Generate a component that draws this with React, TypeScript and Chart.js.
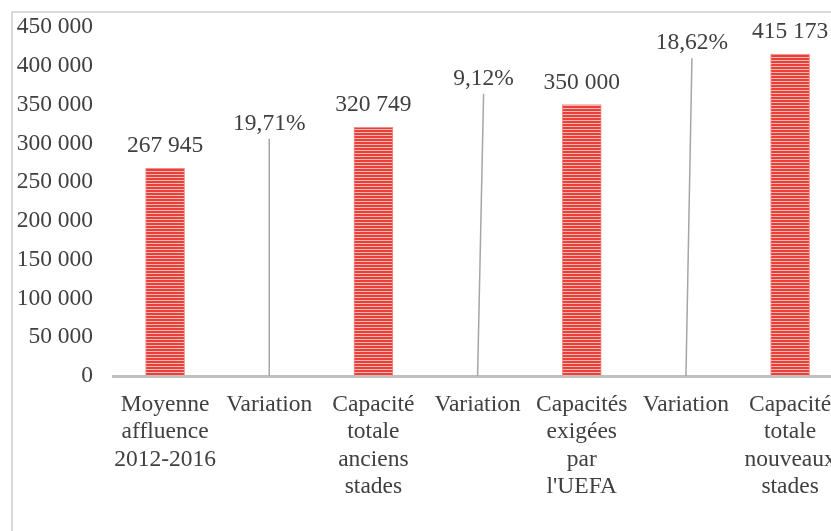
import React, { useEffect, useRef } from "react";
import { Chart, registerables } from "chart.js";

Chart.register(...registerables);

const categories: string[][] = [
  ["Moyenne", "affluence", "2012-2016"],
  ["Variation"],
  ["Capacité", "totale", "anciens", "stades"],
  ["Variation"],
  ["Capacités", "exigées", "par", "l'UEFA"],
  ["Variation"],
  ["Capacité", "totale", "nouveaux", "stades"],
];

const capacities: (number | null)[] = [267945, null, 320749, null, 350000, null, 415173];
const variations: (number | null)[] = [null, 19.71, null, 9.12, null, 18.62, null];
// label anchor levels (in axis units) for the variation leader lines
const variationLabelLevels: (number | null)[] = [null, 306000, null, 364000, null, 410000, null];
const variationLabelShift: (number | null)[] = [null, 0, null, 6, null, 6, null];

const yMin = 0;
const yMax = 450000;
const yStep = 50000;

const FONT = "'Liberation Serif', 'Times New Roman', serif";
const FS = 23.5;
const TEXT = "#404040";

const fmtNum = (v: number) => String(v).replace(/\B(?=(\d{3})+(?!\d))/g, " ");
const fmtPct = (v: number) => v.toFixed(2).replace(".", ",") + "%";

function makePattern(): CanvasPattern | string {
  const c = document.createElement("canvas");
  c.width = 4;
  c.height = 3;
  const ctx = c.getContext("2d");
  if (!ctx) return "#e8463f";
  ctx.fillStyle = "#f7b9b6";
  ctx.fillRect(0, 0, 4, 3);
  ctx.fillStyle = "#e9403a";
  ctx.fillRect(0, 0, 4, 2);
  return ctx.createPattern(c, "repeat") || "#e8463f";
}

const labelPlugin = {
  id: "customLabels",
  afterDatasetsDraw(chart: any) {
    const ctx = chart.ctx;
    const xs = chart.scales.x;
    const ys = chart.scales.y;
    const meta = chart.getDatasetMeta(0);
    ctx.save();
    ctx.font = `${FS}px ${FONT}`;
    ctx.fillStyle = TEXT;
    ctx.textAlign = "center";
    ctx.textBaseline = "alphabetic";
    capacities.forEach((v, i) => {
      if (v == null) return;
      const el = meta.data[i];
      ctx.fillText(fmtNum(v), el.x, el.y - 16);
    });
    variations.forEach((v, i) => {
      if (v == null) return;
      const lvl = variationLabelLevels[i] as number;
      const dx = (variationLabelShift[i] as number) || 0;
      const x = xs.getPixelForValue(i);
      const y0 = ys.getPixelForValue(0);
      const y1 = ys.getPixelForValue(lvl);
      ctx.strokeStyle = "#a6a6a6";
      ctx.lineWidth = 1.5;
      ctx.beginPath();
      ctx.moveTo(x, y0);
      ctx.lineTo(x + dx, y1);
      ctx.stroke();
      ctx.fillText(fmtPct(v), x + dx, y1 - 9);
    });
    ctx.restore();
  },
};

export default function App() {
  const ref = useRef<HTMLCanvasElement | null>(null);
  useEffect(() => {
    if (!ref.current) return;
    const pattern = makePattern();
    const chart = new Chart(ref.current, {
      type: "bar",
      data: {
        labels: categories,
        datasets: [
          {
            data: capacities,
            backgroundColor: pattern as any,
            borderColor: "rgba(240,130,126,0.9)",
            borderWidth: 1,
            barThickness: 39,
          },
        ],
      },
      options: {
        responsive: false,
        animation: false,
        devicePixelRatio: 1,
        layout: { padding: { top: 0, right: 3, left: 0, bottom: 0 } },
        plugins: { legend: { display: false }, tooltip: { enabled: false } },
        scales: {
          x: {
            grid: { display: false, drawTicks: false },
            border: { display: true, color: "#bfbfbf", width: 3 },
            ticks: {
              autoSkip: false,
              maxRotation: 0,
              minRotation: 0,
              padding: 15,
              color: TEXT,
              font: { family: FONT, size: FS, lineHeight: 1.17 },
            },
            afterFit: (s: any) => {
              s.height = 155;
            },
          },
          y: {
            min: yMin,
            max: yMax,
            grid: {
              display: true,
              drawOnChartArea: false,
              drawTicks: true,
              tickLength: 20,
              color: "rgba(0,0,0,0)",
            },
            border: { display: false },
            ticks: {
              stepSize: yStep,
              padding: 0,
              color: TEXT,
              font: { family: FONT, size: FS },
              callback: (v: any) => fmtNum(Number(v)),
            },
            afterFit: (s: any) => {
              s.width = 100;
            },
          },
        },
      },
      plugins: [labelPlugin],
    });
    return () => chart.destroy();
  }, []);

  return (
    <div
      style={{
        position: "fixed",
        left: 0,
        top: 0,
        width: 831,
        height: 531,
        overflow: "hidden",
        background: "#ffffff",
      }}
    >
      <div
        style={{
          position: "absolute",
          left: 11,
          top: 11,
          borderLeft: "2px solid #d9d9d9",
          borderTop: "2px solid #d9d9d9",
        }}
      >
        <canvas ref={ref} width={838} height={518} style={{ display: "block", width: 838, height: 518 }} />
      </div>
    </div>
  );
}
